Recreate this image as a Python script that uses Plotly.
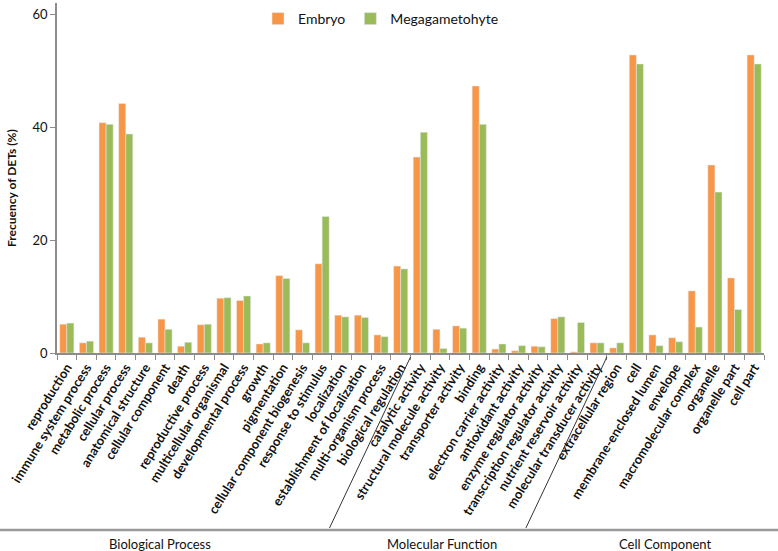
import plotly.graph_objects as go

categories = [
    "reproduction", "immune system process", "metabolic process", "cellular process",
    "anatomical structure", "cellular component", "death", "reproductive process",
    "multicellular organismal", "developmental process", "growth", "pigmentation",
    "cellular component biogenesis", "response to stimulus", "localization",
    "establishment of localization", "multi-organism process", "biological regulation",
    "catalytic activity", "structural molecule activity", "transporter activity", "binding",
    "electron carrier activity", "antioxidant activity", "enzyme regulator activity",
    "transcription regulator activity", "nutrient reservoir activity",
    "molecular transducer activity",
    "extracellular region", "cell", "membrane-enclosed lumen", "envelope",
    "macromolecular complex", "organelle", "organelle part", "cell part",
]
embryo = [5.1, 1.8, 40.8, 44.2, 2.8, 6.0, 1.2, 5.0, 9.7, 9.3, 1.6, 13.7,
          4.1, 15.8, 6.7, 6.7, 3.2, 15.4,
          34.7, 4.2, 4.8, 47.3, 0.7, 0.4, 1.2, 6.1, 0.2, 1.8,
          0.9, 52.8, 3.2, 2.7, 11.0, 33.3, 13.3, 52.8]
megagametophyte = [5.3, 2.1, 40.5, 38.8, 1.8, 4.2, 1.9, 5.1, 9.8, 10.1, 1.8, 13.2,
                   1.8, 24.2, 6.4, 6.3, 2.9, 14.9,
                   39.1, 0.8, 4.4, 40.5, 1.6, 1.3, 1.1, 6.4, 5.4, 1.8,
                   1.8, 51.2, 1.3, 2.0, 4.6, 28.5, 7.7, 51.2]
group_names = ["Biological Process", "Molecular Function", "Cell Component"]
group_sizes = [18, 10, 8]
yticks = [0, 20, 40, 60]
y_title = "Frecuency of DETs (%)"

ORANGE = "#F79646"
GREEN = "#9BBB59"

fig = go.Figure()
fig.add_trace(go.Bar(x=categories, y=embryo, name="Embryo", marker_color=ORANGE))
fig.add_trace(go.Bar(x=categories, y=megagametophyte, name="Megagametohyte", marker_color=GREEN))

n = len(categories)
L, R, T, B = 57, 14, 3, 198
W, H = 778, 551
pw = W - L - R
ph = H - T - B

shapes = []
annotations = []
# horizontal line under labels
shapes.append(dict(type="line", xref="paper", yref="paper",
                   x0=-L / pw, x1=(W - L) / pw, y0=-177 / ph, y1=-177 / ph,
                   line=dict(color="#9a9a9a", width=2.5)))
# diagonal separators between the groups
start = 0
for i, size in enumerate(group_sizes):
    start += size
    if i < len(group_sizes) - 1:
        xt = start / n
        xb = xt - 81 / pw
        shapes.append(dict(type="line", xref="paper", yref="paper",
                           x0=xb, y0=-175 / ph, x1=xt, y1=-4 / ph,
                           line=dict(color="#333333", width=1)))

label_px = [160, 442, 665]
for name, px in zip(group_names, label_px):
    annotations.append(dict(text=name, xref="paper", yref="paper",
                            x=(px - L) / pw, y=-191 / ph, showarrow=False,
                            xanchor="center", yanchor="middle",
                            font=dict(size=13, color="#111111")))

# y-axis title
annotations.append(dict(text=y_title, xref="paper", yref="paper",
                        x=(11 - L) / pw, y=(353 - 188) / ph, showarrow=False,
                        textangle=-90, xanchor="center", yanchor="middle",
                        font=dict(size=12, weight="bold", color="#111111")))

fig.update_layout(
    width=W, height=H,
    margin=dict(l=L, r=R, t=T, b=B, autoexpand=False),
    paper_bgcolor="white", plot_bgcolor="white",
    barmode="group", bargap=0.28, bargroupgap=0.0,
    font=dict(family="Lato, Open Sans, sans-serif", color="#111111"),
    showlegend=True,
    legend=dict(orientation="h", x=(258 - L) / pw, xanchor="left", y=1.0, yanchor="top",
                font=dict(size=14, color="#111111"), itemwidth=30,
                bgcolor="rgba(255,255,255,0)", traceorder="normal"),
    shapes=shapes,
    annotations=annotations,
    xaxis=dict(type="category", tickangle=-58, showline=True, linecolor="#8c8c8c",
               linewidth=1.5, ticks="outside", tickson="boundaries", ticklen=5,
               tickcolor="#8c8c8c", automargin=False,
               tickfont=dict(size=13, family="Lato, sans-serif", weight="bold", color="#111111"),
               showgrid=False, range=[-0.5, n - 0.5]),
    yaxis=dict(range=[0, 62], tickvals=yticks, showline=True, linecolor="#8c8c8c",
               linewidth=1.5, ticks="outside", ticklen=5, tickcolor="#8c8c8c",
               showgrid=False, zeroline=False, automargin=False,
               tickfont=dict(size=13, color="#111111")),
)

fig.write_html("out.html", config={"displayModeBar": False},
               post_script="document.body.style.margin='0';document.body.style.padding='0';")
